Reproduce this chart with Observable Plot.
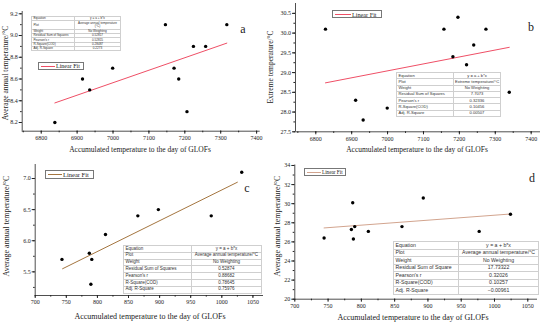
<!DOCTYPE html>
<html><head><meta charset="utf-8">
<script src="https://cdn.jsdelivr.net/npm/d3@7"></script>
<script src="https://cdn.jsdelivr.net/npm/@observablehq/plot@0.6"></script>
<style>
body{margin:0;background:#fff;}
#root{position:relative;width:550px;height:326px;overflow:hidden;background:#fff;}
.panel{position:absolute;}
.lbl{position:absolute;font-family:"Liberation Serif",serif;color:#222;white-space:nowrap;line-height:1;}
.tbl{position:absolute;border-collapse:collapse;font-family:"Liberation Sans",Arial,sans-serif;color:#333;background:#fff;table-layout:fixed;border:0.6px solid #999;}
.tbl td{border:0.5px solid #cfcfcf;padding:0 0 0 1.5px;line-height:1;white-space:nowrap;overflow:visible;}
.leg{position:absolute;border:0.6px solid #777;background:#fff;display:flex;align-items:center;box-sizing:border-box;font-family:"Liberation Serif",serif;color:#222;white-space:nowrap;}
</style></head><body><div id="root"></div><script>
// ---- data ----
const aX = [6838, 6915, 6935, 6999, 7146, 7170, 7183, 7206, 7224, 7258, 7317];
const aY = [8.2, 8.6, 8.5, 8.7, 9.1, 8.7, 8.6, 8.3, 8.9, 8.9, 9.1];
const aFitX = [6838, 7317];
const aFitY = [8.38, 8.93];
const bX = [6827, 6911, 6932, 6999, 7157, 7182, 7196, 7220, 7240, 7274, 7339];
const bY = [30.1, 28.3, 27.8, 28.1, 30.1, 29.4, 30.4, 29.2, 29.7, 30.1, 28.5];
const bFitX = [6827, 7339];
const bFitY = [28.74, 29.64];
const cX = [743, 787, 789.5, 791, 813, 865, 898, 983, 1032];
const cY = [5.7, 5.8, 5.3, 5.7, 6.1, 6.4, 6.5, 6.4, 7.1];
const cFitX = [744, 1025];
const cFitY = [5.55, 6.94];
const dX = [744, 785, 787, 788, 790, 810.5, 861, 893, 977, 1024];
const dY = [26.4, 27.3, 30.1, 26.3, 27.6, 27.1, 27.6, 30.6, 27.1, 28.9];
const dFitX = [744, 1024];
const dFitY = [27.46, 28.92];

const abXTicks = [6800, 6900, 7000, 7100, 7200, 7300, 7400];
const aYTicks = [8.2, 8.4, 8.6, 8.8, 9.0, 9.2];
const bYTicks = [27.5, 28.0, 28.5, 29.0, 29.5, 30.0, 30.5];
const cdXTicks = [700, 750, 800, 850, 900, 950, 1000, 1050];
const cYTicks = [5.5, 6.0, 6.5, 7.0];
const dYTicks = [20, 22, 24, 26, 28, 30, 32, 34];

const xTitle = "Accumulated temperature to the day of GLOFs";
const yTitleAvg = "Average annual temperature/°C";
const yTitleExt = "Extreme temperature/°C";
const legendText = "Linear Fit";

const tableKeys = ["Equation", "Plot", "Weight", "Residual Sum of Squares", "Pearson's r", "R-Square(COD)", "Adj. R-Square"];
const tableKeysD = ["Equation", "Plot", "Weight", "Residual Sum of Square", "Pearson's r", "R-Square(COD)", "Adj. R-Square"];
const aVals = ["y = a + b*x", "Average annual temperature<br>(°C)", "No Weighting", "0.52817", "0.52815", "0.28487", "0.2273"];
const bVals = ["y = a + b*x", "Extreme temperature/°C", "No Weighting", "7.7073", "0.32336", "0.10456", "0.00507"];
const cVals = ["y = a + b*x", "Average annual temperature/°C", "No Weighting", "0.52874", "0.88682", "0.78645", "0.75976"];
const dVals = ["y = a + b*x", "Average annual temperature/°C", "No Weighting", "17.73322", "0.32026", "0.10257", "−0.00961"];

const root = document.getElementById("root");

function panel(o) {
  const pts = o.xs.map((x, i) => ({x, y: o.ys[i]}));
  const fit = o.fx.map((x, i) => ({x, y: o.fy[i]}));
  const svg = Plot.plot({
    width: 275, height: 163,
    marginLeft: o.m[0], marginTop: o.m[1], marginRight: o.m[2], marginBottom: o.m[3],
    style: {fontFamily: "Liberation Serif, serif", fontSize: "6px", background: "transparent", color: "#222", overflow: "visible"},
    x: {domain: o.xd, label: null},
    y: {domain: o.yd, label: null},
    marks: [
      Plot.axisX({ticks: o.xMinor, tickSize: 1.6, tickFormat: () => "", label: null, stroke: "#222"}),
      Plot.axisX({ticks: o.xt, tickSize: 3, tickPadding: 1.5, tickFormat: d => String(d), label: null, stroke: "#222"}),
      Plot.axisY({ticks: o.yMinor, tickSize: 1.6, tickFormat: () => "", label: null, stroke: "#222"}),
      Plot.axisY({ticks: o.yt, tickSize: 3, tickPadding: 1.5, tickFormat: o.yf, label: null, stroke: "#222"}),
      Plot.ruleX([o.xd[0]], {stroke: "#222", strokeWidth: 0.8}),
      Plot.ruleY([o.yd[0]], {stroke: "#222", strokeWidth: 0.8}),
      Plot.line(fit, {x: "x", y: "y", stroke: o.color, strokeWidth: 1}),
      Plot.dot(pts, {x: "x", y: "y", r: 1.7, fill: "#000", stroke: "none"})
    ]
  });
  svg.classList.add("panel");
  svg.style.left = o.left + "px";
  svg.style.top = o.top + "px";
  root.appendChild(svg);
}

function label(text, cx, cy, size, rot) {
  const d = document.createElement("div");
  d.className = "lbl";
  d.textContent = text;
  d.style.fontSize = size + "px";
  d.style.left = cx + "px";
  d.style.top = cy + "px";
  d.style.transform = "translate(-50%,-50%)" + (rot ? " rotate(-90deg)" : "");
  root.appendChild(d);
}

function table(keys, vals, o) {
  const t = document.createElement("table");
  t.className = "tbl";
  t.style.left = o.left + "px";
  t.style.top = o.top + "px";
  t.style.width = o.width + "px";
  t.style.fontSize = o.fs + "px";
  let html = `<colgroup><col style="width:${o.split}px"><col></colgroup>`;
  keys.forEach((k, i) => {
    const h = (o.double && i === 1 ? 2 : 1) * o.rh;
    html += `<tr style="height:${h}px"><td>${k}</td><td style="text-align:center;padding:0">${vals[i]}</td></tr>`;
  });
  t.innerHTML = html;
  root.appendChild(t);
}

function legend(o) {
  const d = document.createElement("div");
  d.className = "leg";
  Object.assign(d.style, {left: o.left + "px", top: o.top + "px", width: o.w + "px", height: o.h + "px", fontSize: o.fs + "px"});
  d.innerHTML = `<span style="display:inline-block;width:${o.lw}px;border-top:1px solid ${o.color};margin:0 1.5px 0 1.5px"></span><span>${legendText}</span>`;
  root.appendChild(d);
}

const red = "#ef4f66";
const brownC = "#a4753f";
const brownD = "#d2a48e";

panel({left: 0, top: 0, xs: aX, ys: aY, fx: aFitX, fy: aFitY, xd: [6747, 7410], yd: [8.12, 9.221],
  m: [21.7, 11, 15.3, 32.3], xt: abXTicks, yt: aYTicks, xMinor: d3.range(6750, 7410, 50), yMinor: d3.range(8.2, 9.22, 0.1),
  yf: d3.format(".1f"), color: red});
panel({left: 275, top: 0, xs: bX, ys: bY, fx: bFitX, fy: bFitY, xd: [6743.5, 7426], yd: [27.5, 30.75],
  m: [20, 3, 10, 31.7], xt: abXTicks, yt: bYTicks, xMinor: d3.range(6750, 7426, 50), yMinor: d3.range(27.5, 30.75, 0.25),
  yf: d3.format(".1f"), color: red});
panel({left: 0, top: 163, xs: cX, ys: cY, fx: cFitX, fy: cFitY, xd: [700, 1067], yd: [5.12, 7.225],
  m: [34.7, 1, 12, 31], xt: cdXTicks, yt: cYTicks, xMinor: d3.range(700, 1067, 25), yMinor: d3.range(5.25, 7.22, 0.25),
  yf: d3.format(".1f"), color: brownC});
panel({left: 275, top: 163, xs: dX, ys: dY, fx: dFitX, fy: dFitY, xd: [700, 1064.6], yd: [20, 34.05],
  m: [19.3, 1.5, 13, 27.3], xt: cdXTicks, yt: dYTicks, xMinor: d3.range(700, 1064, 25), yMinor: d3.range(20, 34.05, 1),
  yf: d3.format("d"), color: brownD});

// axis titles
label(xTitle, 140, 150, 7.5, false);
label(xTitle, 417, 150, 7.5, false);
label(xTitle, 150, 317, 8, false);
label(xTitle, 413, 318, 8, false);
label(yTitleAvg, 6, 73, 7.5, true);
label(yTitleExt, 271, 67, 7.5, true);
label(yTitleAvg, 7, 226, 8, true);
label(yTitleAvg, 278, 226, 8, true);
// panel letters
label("a", 243, 29, 12, false);
label("b", 531, 27, 12, false);
label("c", 247, 188, 12, false);
label("d", 532, 178, 12, false);

// stats tables
table(tableKeys, aVals, {left: 31, top: 16, width: 90, split: 43, rh: 4.3, fs: 3.1, double: true});
table(tableKeys, bVals, {left: 396, top: 72, width: 105, split: 57, rh: 6.3, fs: 4.1});
table(tableKeys, cVals, {left: 123, top: 245, width: 139, split: 68, rh: 6.8, fs: 4.5});
table(tableKeysD, dVals, {left: 393, top: 241, width: 146, split: 65, rh: 7.5, fs: 5.2});

// legends
legend({left: 38, top: 62, w: 46, h: 8, fs: 6, lw: 14, color: red});
legend({left: 332, top: 10, w: 50, h: 8, fs: 6.2, lw: 16, color: red});
legend({left: 45, top: 170, w: 49, h: 9, fs: 6.5, lw: 14, color: brownC});
legend({left: 304, top: 168, w: 42, h: 8, fs: 5.2, lw: 14, color: brownD});
</script></body></html>
